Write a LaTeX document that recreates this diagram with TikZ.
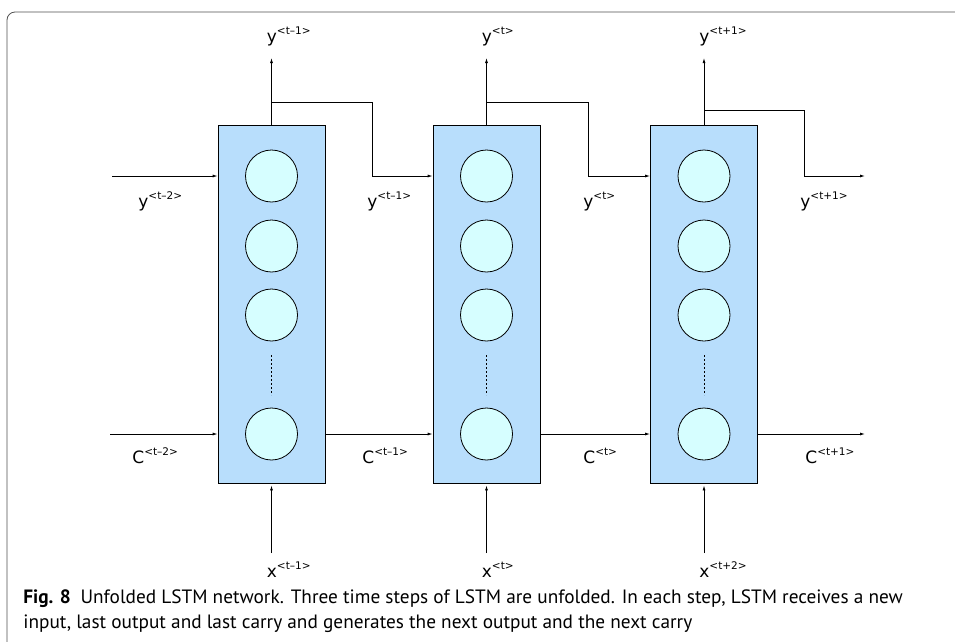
\documentclass[tikz,border=0pt]{standalone}
\usepackage{fontspec}
\setmainfont{DejaVu Sans}
\newfontfamily\capfont{PT Sans}
\usetikzlibrary{arrows.meta}
\definecolor{cellblue}{RGB}{184,222,252}
\definecolor{unitcyan}{RGB}{214,254,255}
\definecolor{framegray}{RGB}{80,80,80}
\newcommand{\tstep}[1]{\raisebox{7.5pt}{\fontsize{10.5}{10.5}\selectfont<t#1>}}
\tikzset{
  cell/.style={draw, fill=cellblue, minimum width=107pt, minimum height=358pt, inner sep=0pt},
  unit/.style={circle, draw, fill=unitcyan, minimum size=52pt, inner sep=0pt},
  lab/.style={font=\fontsize{17}{17}\selectfont, inner sep=0pt, anchor=base west},
}
\begin{document}
\begin{tikzpicture}[x=1pt, y=-1pt, line width=0.8pt, >={Latex[length=5pt,width=3pt]}]
  \useasboundingbox (0,0) rectangle (955,641);
  \draw[framegray, rounded corners=8pt] (975,12) -- (7,12) -- (7,660);
  \foreach \i/\x in {1/271.5,2/486.5,3/704} {
    \node[cell] (box\i) at (\x,304) {};
    \foreach \j/\yy in {a/176,b/246,c/315,d/434}
      \node[unit] (u\i\j) at (\x,\yy) {};
    \draw[dash pattern=on 2pt off 2pt] (\x,355) -- (\x,395);
    \coordinate (yout\i) at (\x,58);
    \coordinate (xin\i) at (\x,553);
    \draw[->] (box\i.north) -- (yout\i);
    \draw[->, shorten >=2pt] (xin\i) -- (box\i.south);
  }
  \coordinate (split1) at (271.5,102);
  \coordinate (split2) at (486.5,102);
  \coordinate (split3) at (704,110);
  \coordinate (turn1) at (372,176);
  \coordinate (turn2) at (588,176);
  \coordinate (turn3) at (804,176);
  \coordinate (yin) at (112,176);
  \coordinate (yend) at (865,176);
  \coordinate (cin) at (110,434);
  \coordinate (cend) at (865,434);
  \draw[->] (yin) -- (box1.west |- u1a);
  \draw[->] (split1) -| (turn1) -- (box2.west |- u2a);
  \draw[->] (split2) -| (turn2) -- (box3.west |- u3a);
  \draw[->] (split3) -| (turn3) -- (yend);
  \draw[->] (cin) -- (box1.west |- u1d);
  \draw[->] (box1.east |- u1d) -- (box2.west |- u2d);
  \draw[->] (box2.east |- u2d) -- (box3.west |- u3d);
  \draw[->] (box3.east |- u3d) -- (cend);
  \node[lab] (ytop1) at (266.5,42) {y\tstep{--1}};
  \node[lab] (ytop2) at (481.5,42) {y\tstep{}};
  \node[lab] (ytop3) at (699,42) {y\tstep{+1}};
  \node[lab] (yside1) at (138,207) {y\tstep{--2}};
  \node[lab] (yside2) at (367,207) {y\tstep{--1}};
  \node[lab] (yside3) at (583,207) {y\tstep{}};
  \node[lab] (yside4) at (800,207) {y\tstep{+1}};
  \node[lab] (cside1) at (132,463) {C\tstep{--2}};
  \node[lab] (cside2) at (362,463) {C\tstep{--1}};
  \node[lab] (cside3) at (583,463) {C\tstep{}};
  \node[lab] (cside4) at (805,463) {C\tstep{+1}};
  \node[lab] (xbot1) at (266.5,577) {x\tstep{--1}};
  \node[lab] (xbot2) at (481.5,577) {x\tstep{}};
  \node[lab] (xbot3) at (699,577) {x\tstep{+2}};
  \node[anchor=base west, inner sep=0pt, align=left, font=\capfont\fontsize{19.3}{25}\selectfont] (caption) at (23,628)
    {\textbf{Fig. 8}\hspace{0.5em}Unfolded LSTM network. Three time steps of LSTM are unfolded. In each step, LSTM receives a new\\
     input, last output and last carry and generates the next output and the next carry};
\end{tikzpicture}
\end{document}
